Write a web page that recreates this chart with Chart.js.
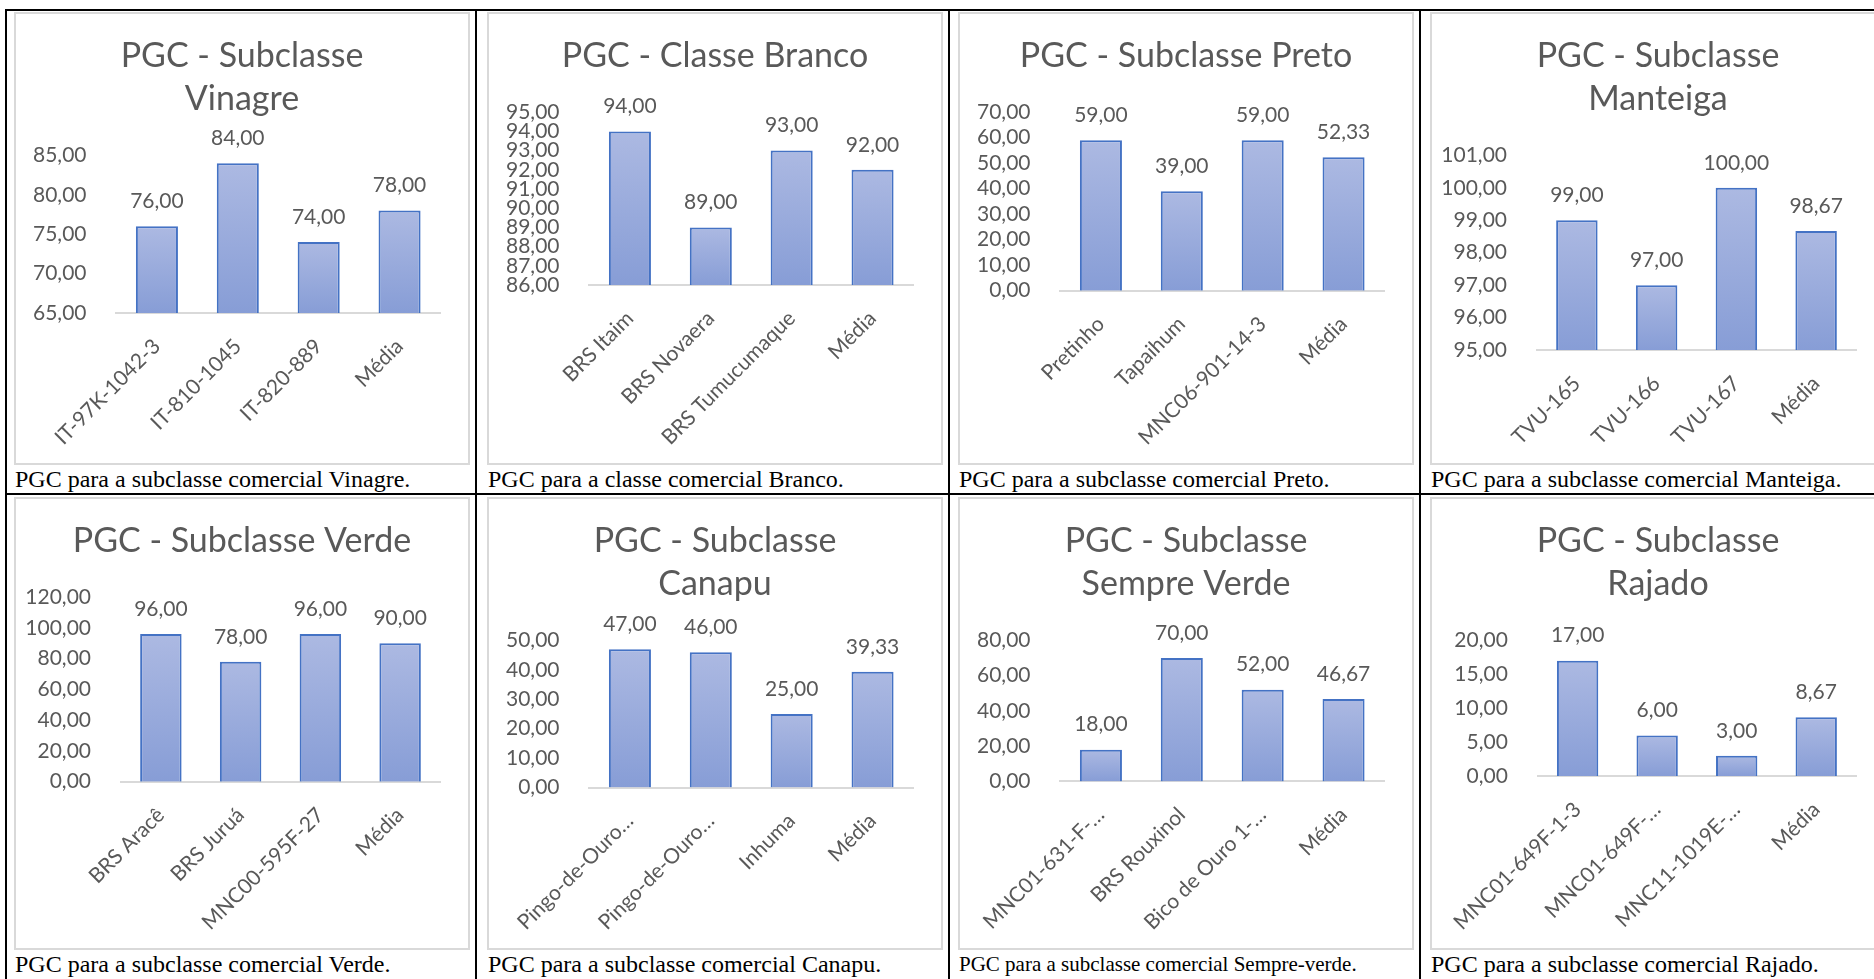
<!DOCTYPE html>
<html>
<head>
<meta charset="utf-8">
<script src="https://cdn.jsdelivr.net/npm/chart.js@4.4.0/dist/chart.umd.min.js"></script>
<style>
  body { margin: 0; width: 1874px; height: 979px; overflow: hidden; background: #fff; position: relative; }
  .box { position: absolute; width: 452px; height: 449px; border: 2px solid #d9d9d9; background: #fff; }
  .box canvas { display: block; }
  .cap { position: absolute; font-family: "Liberation Serif", serif; font-size: 24px; line-height: 24px; color: #000; white-space: nowrap; }
  .line { position: absolute; background: #000; }
</style>
</head>
<body>
<script>
// chart data
const vinagreCats = ['IT-97K-1042-3', 'IT-810-1045', 'IT-820-889', 'Média'];
const vinagreVals = [76, 84, 74, 78];
const brancoCats = ['BRS Itaim', 'BRS Novaera', 'BRS Tumucumaque', 'Média'];
const brancoVals = [94, 89, 93, 92];
const pretoCats = ['Pretinho', 'Tapaihum', 'MNC06-901-14-3', 'Média'];
const pretoVals = [59, 39, 59, 52.33];
const manteigaCats = ['TVU-165', 'TVU-166', 'TVU-167', 'Média'];
const manteigaVals = [99, 97, 100, 98.67];
const verdeCats = ['BRS Aracê', 'BRS Juruá', 'MNC00-595F-27', 'Média'];
const verdeVals = [96, 78, 96, 90];
const canapuCats = ['Pingo-de-Ouro…', 'Pingo-de-Ouro…', 'Inhuma', 'Média'];
const canapuVals = [47, 46, 25, 39.33];
const sempreCats = ['MNC01-631-F-…', 'BRS Rouxinol', 'Bico de Ouro 1-…', 'Média'];
const sempreVals = [18, 70, 52, 46.67];
const rajadoCats = ['MNC01-649F-1-3', 'MNC01-649F-…', 'MNC11-1019E-…', 'Média'];
const rajadoVals = [17, 6, 3, 8.67];

// y axis: min, max, step
const yRanges = [[65, 85, 5], [86, 95, 1], [0, 70, 10], [95, 101, 1], [0, 120, 20], [0, 50, 10], [0, 80, 20], [0, 20, 5]];

const titles = [
  ['PGC - Subclasse', 'Vinagre'],
  ['PGC - Classe Branco'],
  ['PGC - Subclasse Preto'],
  ['PGC - Subclasse', 'Manteiga'],
  ['PGC - Subclasse Verde'],
  ['PGC - Subclasse', 'Canapu'],
  ['PGC - Subclasse', 'Sempre Verde'],
  ['PGC - Subclasse', 'Rajado']
];
const captions = [
  'PGC para a subclasse comercial Vinagre.',
  'PGC para a classe comercial Branco.',
  'PGC para a subclasse comercial Preto.',
  'PGC para a subclasse comercial Manteiga.',
  'PGC para a subclasse comercial Verde.',
  'PGC para a subclasse comercial Canapu.',
  'PGC para a subclasse comercial Sempre-verde.',
  'PGC para a subclasse comercial Rajado.'
];

const allCats = [vinagreCats, brancoCats, pretoCats, manteigaCats, verdeCats, canapuCats, sempreCats, rajadoCats];
const allVals = [vinagreVals, brancoVals, pretoVals, manteigaVals, verdeVals, canapuVals, sempreVals, rajadoVals];

const colX = [14, 487, 958, 1430];
const rowY = [12, 497];
const grey = '#595959';

const fmt = v => v.toFixed(2).replace('.', ',');

// table rules
function rule(l, t, w, h) {
  const d = document.createElement('div');
  d.className = 'line';
  d.style.cssText = `left:${l}px;top:${t}px;width:${w}px;height:${h}px`;
  document.body.appendChild(d);
}
rule(5, 9, 1869, 2);
rule(5, 493, 1869, 2);
rule(5, 9, 2, 970);
rule(475, 9, 2, 970);
rule(948, 9, 2, 970);
rule(1419, 9, 2, 970);

function barFill(c) {
  const chart = c.chart;
  const ys = chart.scales && chart.scales.y;
  if (!ys || c.type !== 'data') return '#9aabdc';
  const top = ys.getPixelForValue(c.raw);
  const bottom = ys.getPixelForValue(ys.min);
  if (!isFinite(top) || !isFinite(bottom) || bottom - top < 1) return '#9aabdc';
  const g = chart.ctx.createLinearGradient(0, top, 0, bottom);
  g.addColorStop(0, '#acb9e2');
  g.addColorStop(1, '#879dd6');
  return g;
}

const valueLabels = {
  id: 'valueLabels',
  afterDatasetsDraw(chart) {
    const ctx = chart.ctx;
    const meta = chart.getDatasetMeta(0);
    const vals = chart.data.datasets[0].data;
    ctx.save();
    ctx.font = '21px Lato';
    ctx.fillStyle = grey;
    ctx.textAlign = 'center';
    ctx.textBaseline = 'middle';
    meta.data.forEach((bar, i) => ctx.fillText(fmt(vals[i]), bar.x, bar.y - 25));
    ctx.restore();
  }
};

Chart.defaults.font.family = 'Lato';
Chart.defaults.color = grey;

for (let i = 0; i < 8; i++) {
  const left = colX[i % 4];
  const top = rowY[Math.floor(i / 4)];
  const box = document.createElement('div');
  box.className = 'box';
  box.style.left = left + 'px';
  box.style.top = top + 'px';
  const cv = document.createElement('canvas');
  cv.width = 452;
  cv.height = 449;
  box.appendChild(cv);
  document.body.appendChild(box);

  const cap = document.createElement('div');
  cap.className = 'cap';
  cap.textContent = captions[i];
  cap.style.left = (left + 1) + 'px';
  cap.style.top = (top + 455) + 'px';
  if (i === 6) { cap.style.fontSize = '21px'; cap.style.lineHeight = '21px'; cap.style.top = (top + 457) + 'px'; }
  document.body.appendChild(cap);

  const [yMin, yMax, yStep] = yRanges[i];
  new Chart(cv.getContext('2d'), {
    type: 'bar',
    data: {
      labels: allCats[i],
      datasets: [{
        data: allVals[i],
        backgroundColor: barFill,
        borderColor: '#4472c4',
        borderWidth: 2,
        barPercentage: 0.52,
        categoryPercentage: 1
      }]
    },
    options: {
      responsive: false,
      animation: false,
      layout: { padding: { left: 6, right: 6, top: 10, bottom: 0 } },
      plugins: {
        legend: { display: false },
        tooltip: { enabled: false },
        title: {
          display: true,
          text: titles[i],
          color: grey,
          font: { size: 34, weight: 'normal', lineHeight: 1.27 },
          padding: { top: 10, bottom: 35 }
        }
      },
      scales: {
        x: {
          grid: { display: false },
          border: { display: true, color: '#d9d9d9', width: 2 },
          ticks: { color: grey, font: { size: 21 }, maxRotation: 45, minRotation: 45, autoSkip: false, padding: 13 }
        },
        y: {
          min: yMin,
          max: yMax,
          grid: { display: false },
          border: { display: false },
          ticks: { color: grey, font: { size: 21 }, stepSize: yStep, autoSkip: false, padding: 22, callback: v => fmt(v) },
          afterFit: s => { s.width -= 11; }
        },
        // empty right-hand space, as in the original plot area
        gap: {
          type: 'linear',
          position: 'right',
          grid: { display: false },
          border: { display: false },
          ticks: { display: false },
          afterFit: s => { s.width = 22; }
        }
      }
    },
    plugins: [valueLabels]
  });
}
</script>
</body>
</html>
